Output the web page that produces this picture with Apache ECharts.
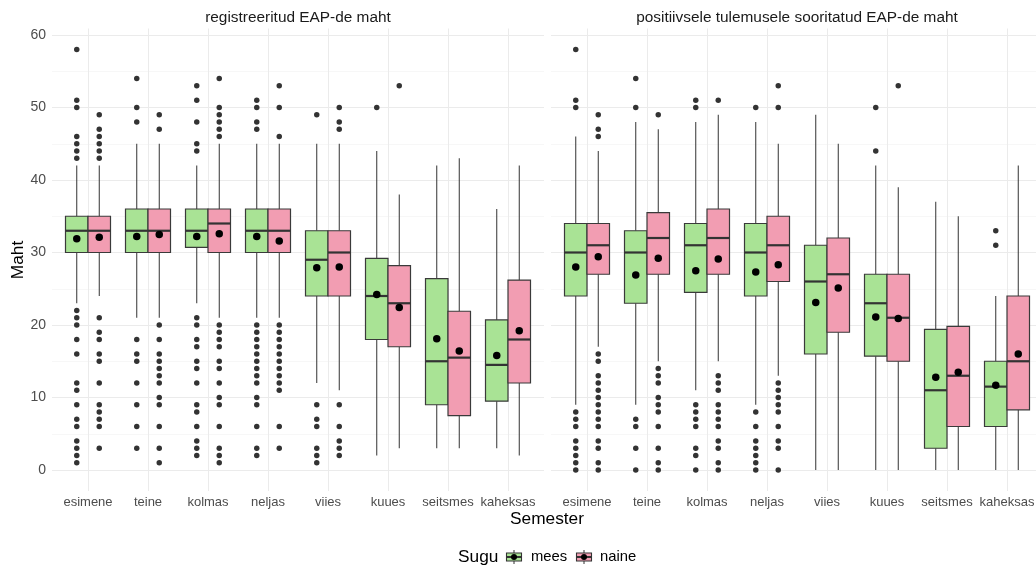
<!DOCTYPE html>
<html>
<head>
<meta charset="utf-8">
<script src="https://cdn.jsdelivr.net/npm/echarts@6/dist/echarts.min.js"></script>
<style>html,body{margin:0;padding:0;background:#fff;}#c{width:1036px;height:567px;}</style>
</head>
<body>
<div id="c"></div>
<script>
const categories = ['esimene','teine','kolmas','neljas','viies','kuues','seitsmes','kaheksas'];
const facetTitles = ['registreeritud EAP-de maht','positiivsele tulemusele sooritatud EAP-de maht'];
const groups = ['mees','naine'];
const yTicks = [0,10,20,30,40,50,60];

// [lower whisker, Q1, median, Q3, upper whisker]
const regMeesBox = [[23,30,33,35,42],[21,30,33,36,45],[23,30.7,33,36,42],[21,30,33,36,45],[12,24,29,33,45],[2,18,24,29.2,44],[3,9,15,26.4,42],[3,9.5,14.5,20.7,36]];
const regMeesMean = [31.9,32.2,32.2,32.2,27.9,24.2,18.1,15.8];
const regMeesOut = [[58,51,50,46,45,44,43,22,21,20,18,16,12,11,9,7,6,4,3,2,1],[54,50,48,18,16,15,12,9,6,3],[53,51,48,45,44,21,20,18,17,15,14,12,9,8,6,4,3,2],[51,50,48,47,20,19,18,17,16,15,14,13,12,10,9,6,3,2],[49,9,7,6,3,2,1],[50],[],[]];

const regNaineBox = [[24,30,33,35,42],[21,30,33,36,45],[21,30,34,36,45],[21,30,33,36,45],[11,24,30,33,45],[3,17,23,28.2,38],[3,7.5,15.5,21.9,43],[2,12,18,26.2,42]];
const regNaineMean = [32.1,32.5,32.6,31.6,28.0,22.4,16.4,19.2];
const regNaineOut = [[49,47,46,45,44,43,21,19,18,16,15,12,9,8,7,6,3],[49,47,20,18,16,15,14,13,12,10,9,6,3,1],[54,50,49,48,47,46,20,19,18,17,15,14,12,10,9,6,3,2,1],[53,50,46,20,19,18,17,16,15,14,13,12,11,6,3],[50,48,47,9,6,4,3,2],[53],[],[]];

const posMeesBox = [[9,24,30,34,46],[9,23,30,33,48],[11,24.5,31,34,48],[9,24,30,34,48],[0,16,26,31,49],[0,15.7,23,27,42],[0,3,11,19.4,37],[0,6,11.5,15,24]];
const posMeesMean = [28.0,26.9,27.5,27.3,23.1,21.1,12.8,11.7];
const posMeesOut = [[58,51,50,8,7,6,4,3,2,1,0],[54,50,7,6,3,0],[51,50,9,8,7,6,3,2,0],[50,8,6,4,3,2,1,0],[],[50,44],[],[33,31]];

const posNaineBox = [[17,27,31,34,44],[15,27,32,35.5,47],[15,27,32,36,49],[13,26,31,35,45],[0,19,27,32,45],[0,15,21,27,39],[0,6,13,19.8,35],[0,8.3,15,24,42]];
const posNaineMean = [29.4,29.2,29.1,28.3,25.1,20.9,13.5,16.0];
const posNaineOut = [[49,47,46,16,15,13,12,11,10,9,8,7,6,4,3,1,0],[49,14,13,12,10,9,8,6,3,1,0],[51,13,12,11,9,8,7,6,4,3,1,0],[53,50,12,11,10,9,8,6,4,3,0],[],[53],[],[]];

const FILL = {mees:'#A9E395', naine:'#F29DB2'};
const FONT = '"Liberation Sans", Arial, Helvetica, sans-serif';
const DODGE = 0.1875, BOXW = 0.375;

const facetData = [
  {mees:{box:regMeesBox, mean:regMeesMean, out:regMeesOut}, naine:{box:regNaineBox, mean:regNaineMean, out:regNaineOut}},
  {mees:{box:posMeesBox, mean:posMeesMean, out:posMeesOut}, naine:{box:posNaineBox, mean:posNaineMean, out:posNaineOut}}
];

const panelLeft = [52, 551];
const panelW = 492;
const unit = panelW / 8.2;

function renderBox(params, api) {
  const x = api.value(0);
  const lo = api.coord([x, api.value(1)]);
  const q1 = api.coord([x, api.value(2)]);
  const md = api.coord([x, api.value(3)]);
  const q3 = api.coord([x, api.value(4)]);
  const hi = api.coord([x, api.value(5)]);
  const w = api.size([BOXW, 0])[0];
  const cx = lo[0];
  const fill = api.visual('color');
  const wl = {stroke:'#333333', lineWidth:1};
  return {type:'group', children:[
    {type:'line', shape:{x1:cx,y1:hi[1],x2:cx,y2:q3[1]}, style:wl},
    {type:'line', shape:{x1:cx,y1:q1[1],x2:cx,y2:lo[1]}, style:wl},
    {type:'rect', shape:{x:cx-w/2, y:q3[1], width:w, height:q1[1]-q3[1]}, style:{fill:fill, stroke:'#3a3a3a', lineWidth:1.2}},
    {type:'line', shape:{x1:cx-w/2,y1:md[1],x2:cx+w/2,y2:md[1]}, style:{stroke:'#333333', lineWidth:2.2}}
  ]};
}

const grids = [], xAxes = [], yAxes = [], series = [];
for (let p = 0; p < 2; p++) {
  grids.push({left: panelLeft[p], width: panelW, top: 35, height: 435, outerBoundsMode:'none', containLabel:false});
}
for (let p = 0; p < 2; p++) {
  grids.push({left: panelLeft[p] + 0.6*unit, width: 7*unit, top: 28.5, height: 462.5, outerBoundsMode:'none', containLabel:false});
}
for (let p = 0; p < 2; p++) {
  xAxes.push({type:'value', gridIndex:p, min:0.4, max:8.6, show:false});
  yAxes.push({type:'value', gridIndex:p, min:0, max:60, interval:10,
    axisLine:{show:false}, axisTick:{show:false},
    axisLabel:{show:p===0, color:'#4d4d4d', fontSize:14, fontFamily:FONT, margin:6,
      customValues: yTicks},
    splitLine:{show:true, lineStyle:{color:'#ebebeb', width:1}},
    minorTick:{show:false, splitNumber:2},
    minorSplitLine:{show:true, lineStyle:{color:'#f2f2f2', width:0.6}}
  });
}
for (let p = 0; p < 2; p++) {
  xAxes.push({type:'category', gridIndex:2+p, data:categories, boundaryGap:false,
    axisLine:{show:false}, axisTick:{show:false},
    axisLabel:{interval:0, color:'#4d4d4d', fontSize:13, fontFamily:FONT, margin:5},
    splitLine:{show:true, interval:0, lineStyle:{color:'#ebebeb', width:1}}
  });
  yAxes.push({type:'value', gridIndex:2+p, min:0, max:1, show:false});
}

for (let p = 0; p < 2; p++) {
  groups.forEach((g, gi) => {
    const off = gi === 0 ? -DODGE : DODGE;
    const d = facetData[p][g];
    series.push({
      type:'custom', name:g, xAxisIndex:p, yAxisIndex:p, renderItem: renderBox,
      itemStyle:{color:FILL[g]}, z:3,
      encode:{x:0, y:[1,2,3,4,5]},
      data: d.box.map((b, i) => [i + 1 + off, b[0], b[1], b[2], b[3], b[4]])
    });
    const outs = [];
    d.out.forEach((arr, i) => arr.forEach(v => outs.push([i + 1 + off, v])));
    series.push({
      type:'scatter', xAxisIndex:p, yAxisIndex:p, symbol:'circle', symbolSize:5.5,
      itemStyle:{color:'#333333', opacity:1}, z:4, data: outs, silent:true
    });
    series.push({
      type:'scatter', xAxisIndex:p, yAxisIndex:p, symbol:'circle', symbolSize:7.5,
      itemStyle:{color:'#000000', opacity:1}, z:5, silent:true,
      data: d.mean.map((m, i) => [i + 1 + off, m])
    });
  });
}

function legendKey(cx, cy, fill) {
  return {type:'group', children:[
    {type:'line', shape:{x1:cx,y1:cy-7,x2:cx,y2:cy+7}, style:{stroke:'#333333', lineWidth:1}},
    {type:'rect', shape:{x:cx-7.5, y:cy-4, width:15, height:8}, style:{fill:fill, stroke:'#333333', lineWidth:1.1}},
    {type:'line', shape:{x1:cx-7.5,y1:cy,x2:cx+7.5,y2:cy}, style:{stroke:'#333333', lineWidth:2}},
    {type:'circle', shape:{cx:cx, cy:cy, r:3}, style:{fill:'#000'}}
  ]};
}

const graphic = [
  {type:'text', style:{text:facetTitles[0], x:panelLeft[0]+panelW/2, y:18, textAlign:'center', textVerticalAlign:'middle', fontSize:15.4, fontFamily:FONT, fill:'#1a1a1a'}},
  {type:'text', style:{text:facetTitles[1], x:panelLeft[1]+panelW/2, y:18, textAlign:'center', textVerticalAlign:'middle', fontSize:15.4, fontFamily:FONT, fill:'#1a1a1a'}},
  {type:'text', style:{text:'Semester', x:547, y:519, textAlign:'center', textVerticalAlign:'middle', fontSize:17.3, fontFamily:FONT, fill:'#000'}},
  {type:'text', rotation:Math.PI/2, x:18, y:260, style:{text:'Maht', x:0, y:0, textAlign:'center', textVerticalAlign:'middle', fontSize:17.3, fontFamily:FONT, fill:'#000'}},
  {type:'text', style:{text:'Sugu', x:458, y:557, textAlign:'left', textVerticalAlign:'middle', fontSize:17.3, fontFamily:FONT, fill:'#000'}},
  legendKey(514, 557, FILL.mees),
  {type:'text', style:{text:'mees', x:531, y:557, textAlign:'left', textVerticalAlign:'middle', fontSize:14.8, fontFamily:FONT, fill:'#000'}},
  legendKey(584, 557, FILL.naine),
  {type:'text', style:{text:'naine', x:600, y:557, textAlign:'left', textVerticalAlign:'middle', fontSize:14.8, fontFamily:FONT, fill:'#000'}}
];

const chart = echarts.init(document.getElementById('c'), null, {renderer:'canvas'});
chart.setOption({
  animation:false,
  backgroundColor:'#ffffff',
  grid: grids, xAxis: xAxes, yAxis: yAxes, series: series, graphic: graphic
});
</script>
</body>
</html>
